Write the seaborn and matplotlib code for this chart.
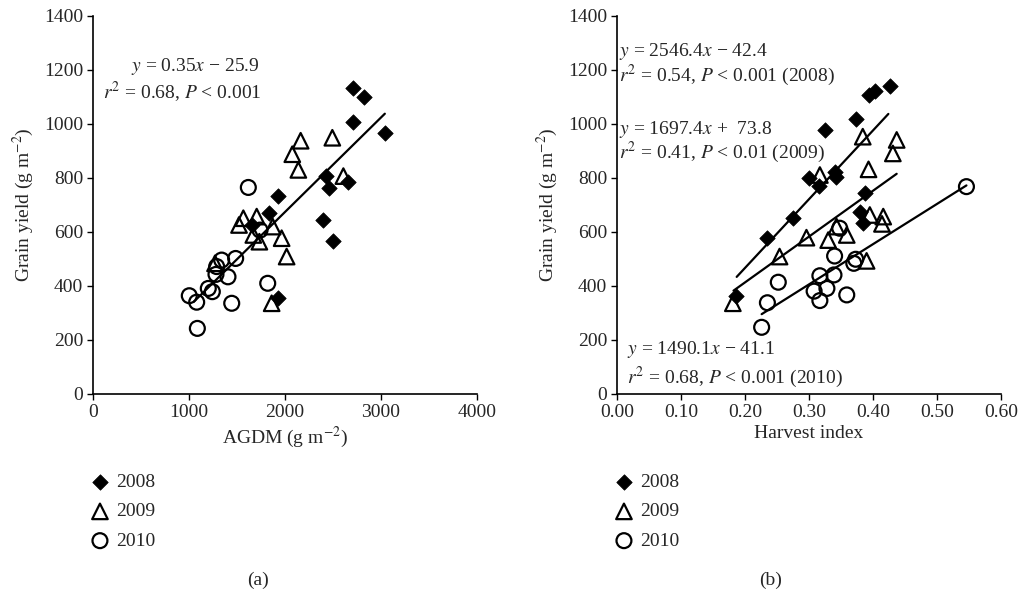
import numpy as np
import pandas as pd
import matplotlib
matplotlib.use('Agg')
import matplotlib.pyplot as plt
import seaborn as sns

# %% Data

# Panel (a): AGDM vs grain yield
agdm_2008 = [2712, 2823, 2712, 3042, 2424, 2660, 2462, 1931, 1833, 2399, 2497, 1931, 1660]
yield_a_2008 = [1132, 1101, 1009, 966, 807, 786, 762, 733, 669, 644, 568, 354, 625]
agdm_2009 = [2163, 2493, 2076, 2139, 2608, 1566, 1705, 1521, 1872, 1670, 1965, 1733,
             2017, 1861, 1271]
yield_a_2009 = [938, 949, 888, 830, 807, 651, 657, 626, 620, 589, 577, 564, 509, 336, 484]
agdm_2010 = [1618, 1740, 1486, 1340, 1288, 1406, 1281, 1201, 1243, 1003, 1080, 1445,
             1820, 1087]
yield_a_2010 = [765, 607, 502, 496, 472, 434, 443, 391, 379, 364, 340, 336, 410, 243]

# Panel (b): harvest index vs grain yield
hi_2008 = [0.426, 0.403, 0.394, 0.373, 0.325, 0.341, 0.342, 0.300, 0.315, 0.275,
           0.234, 0.388, 0.379, 0.385, 0.186]
yield_b_2008 = [1141, 1123, 1107, 1017, 978, 823, 805, 799, 770, 651, 577, 743, 675,
                632, 363]
hi_2009 = [0.384, 0.437, 0.431, 0.393, 0.317, 0.395, 0.416, 0.414, 0.343, 0.359,
           0.296, 0.330, 0.254, 0.390, 0.181]
yield_b_2009 = [953, 941, 891, 832, 811, 663, 657, 630, 620, 589, 579, 570, 509, 493, 336]
hi_2010 = [0.546, 0.348, 0.340, 0.252, 0.317, 0.339, 0.370, 0.373, 0.328, 0.308,
           0.317, 0.359, 0.235, 0.226]
yield_b_2010 = [768, 614, 511, 414, 438, 441, 484, 499, 391, 381, 346, 367, 338, 247]

# Regression fits as printed on the figure (slope, intercept, x range)
fit_a = (0.35, -25.9, 1050, 3040)
fits_b = [(2546.4, -42.4, 0.187, 0.424),
          (1697.4, 73.8, 0.182, 0.437),
          (1490.1, -41.1, 0.226, 0.546)]

YEARS = ['2008', '2009', '2010']

# %% Style
sns.set_style('white')
plt.rcParams['font.family'] = ['Liberation Serif', 'DejaVu Serif']
plt.rcParams['mathtext.fontset'] = 'stix'
FS = 14

marker_kws = {'2008': dict(marker='D', s=62, color='black', edgecolor='black', linewidth=0.5),
              '2009': dict(marker='^', s=125, facecolors='none', edgecolor='black', linewidth=1.6),
              '2010': dict(marker='o', s=115, facecolors='none', edgecolor='black', linewidth=1.6)}


def make_df(xs, ys):
    frames = [pd.DataFrame({'x': x, 'y': y, 'year': yr}) for x, y, yr in zip(xs, ys, YEARS)]
    return pd.concat(frames, ignore_index=True)


df_a = make_df([agdm_2008, agdm_2009, agdm_2010], [yield_a_2008, yield_a_2009, yield_a_2010])
df_b = make_df([hi_2008, hi_2009, hi_2010], [yield_b_2008, yield_b_2009, yield_b_2010])

fig = plt.figure(figsize=(10.22, 5.97), dpi=100)
ax1 = fig.add_axes([93 / 1022, 1 - 394 / 597, 384 / 1022, 378 / 597])
ax2 = fig.add_axes([617 / 1022, 1 - 394 / 597, 384 / 1022, 378 / 597])

for ax, df in [(ax1, df_a), (ax2, df_b)]:
    for yr in YEARS:
        sns.scatterplot(data=df[df['year'] == yr], x='x', y='y', ax=ax, label=yr,
                        zorder=3, **marker_kws[yr])

# regression lines
xx = np.linspace(fit_a[2], fit_a[3], 50)
ax1.plot(xx, fit_a[0] * xx + fit_a[1], color='black', lw=1.6, zorder=2)
for slope, icpt, x0, x1 in fits_b:
    xx = np.linspace(x0, x1, 50)
    ax2.plot(xx, slope * xx + icpt, color='black', lw=1.6, zorder=2)

# axes formatting
ax1.set_xlim(0, 4000)
ax1.set_xticks([0, 1000, 2000, 3000, 4000])
ax1.set_xlabel('AGDM (g m$^{-2}$)', fontsize=FS, labelpad=3)
ax2.set_xlim(0, 0.6)
ax2.set_xticks(np.arange(0, 0.61, 0.1))
ax2.set_xticklabels(['%.2f' % v for v in np.arange(0, 0.61, 0.1)])
ax2.set_xlabel('Harvest index', fontsize=FS, labelpad=3)

for ax in (ax1, ax2):
    ax.set_ylim(0, 1400)
    ax.set_yticks(range(0, 1401, 200))
    ax.set_ylabel('Grain yield (g m$^{-2}$)', fontsize=FS, labelpad=6)
    sns.despine(ax=ax)
    for sp in ['left', 'bottom']:
        ax.spines[sp].set_color('black')
        ax.spines[sp].set_linewidth(1.2)
    ax.tick_params(axis='both', direction='out', length=4, width=1, color='black',
                   labelsize=FS, pad=3, left=True, bottom=True)
    ax.legend(loc='upper left', bbox_to_anchor=(-0.03, -0.19), frameon=False,
              fontsize=FS, handletextpad=0.3, labelspacing=0.6, borderaxespad=0,
              handlelength=1.1)

# equations
ax1.text(0.1, 0.855, r'$y$ = 0.35$x$ − 25.9', transform=ax1.transAxes, fontsize=FS)
ax1.text(0.025, 0.783, r'$r^2$ = 0.68, $P$ < 0.001', transform=ax1.transAxes, fontsize=FS)

ax2.text(0.005, 0.893, r'$y$ = 2546.4$x$ − 42.4', transform=ax2.transAxes, fontsize=FS)
ax2.text(0.005, 0.828, r'$r^2$ = 0.54, $P$ < 0.001 (2008)', transform=ax2.transAxes, fontsize=FS)
ax2.text(0.005, 0.688, r'$y$ = 1697.4$x$ +  73.8', transform=ax2.transAxes, fontsize=FS)
ax2.text(0.005, 0.623, r'$r^2$ = 0.41, $P$ < 0.01 (2009)', transform=ax2.transAxes, fontsize=FS)
ax2.text(0.025, 0.105, r'$y$ = 1490.1$x$ − 41.1', transform=ax2.transAxes, fontsize=FS)
ax2.text(0.025, 0.03, r'$r^2$ = 0.68, $P$ < 0.001 (2010)', transform=ax2.transAxes, fontsize=FS)

fig.text(258 / 1022, 1 - 580 / 597, '(a)', ha='center', va='center', fontsize=FS)
fig.text(771 / 1022, 1 - 580 / 597, '(b)', ha='center', va='center', fontsize=FS)

fig.savefig('out.png', dpi=100)
